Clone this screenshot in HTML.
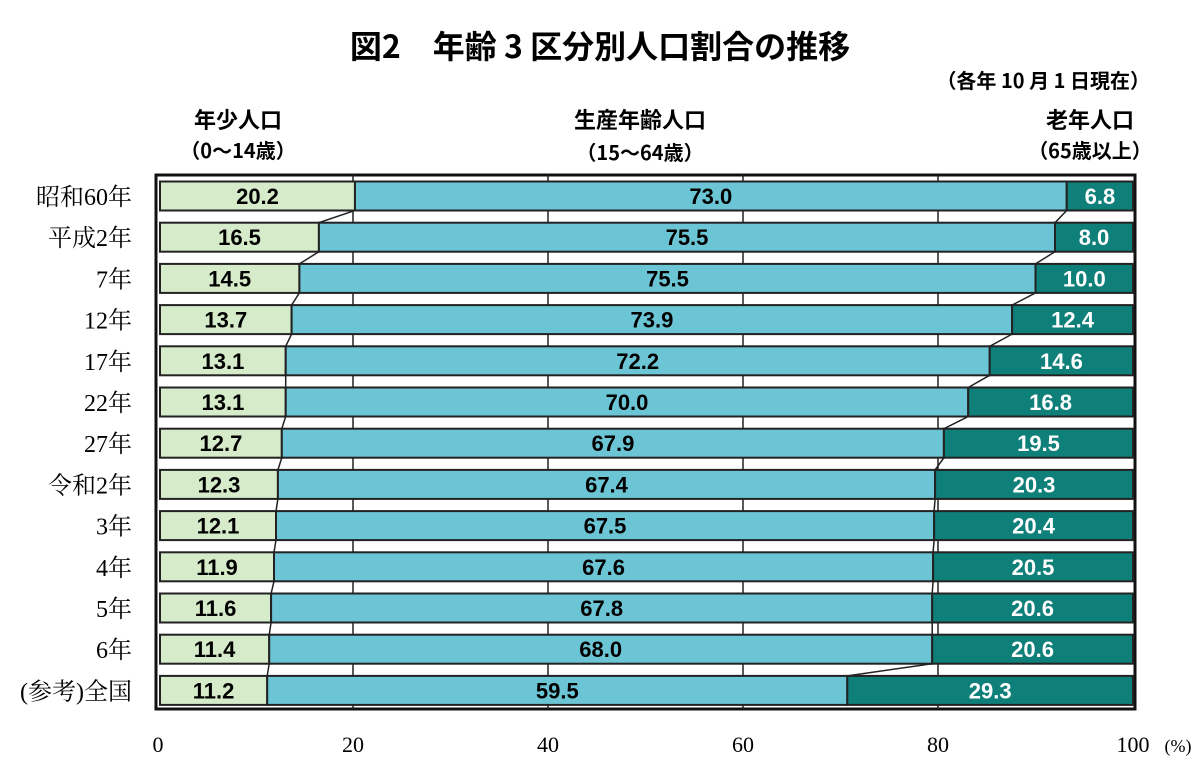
<!DOCTYPE html>
<html><head><meta charset="utf-8"><style>
html,body{margin:0;padding:0;background:#fff;}
.g{fill:#d5ebc9;stroke:#222;stroke-width:2}
.b{fill:#6cc5d5;stroke:#222;stroke-width:2}
.t{fill:#0f7f7a;stroke:#222;stroke-width:2}
.v{font-size:22px;font-weight:bold;text-anchor:middle;font-family:"Liberation Sans",sans-serif}
.w{fill:#fff}
.l{font-size:24px;text-anchor:end;font-family:"Liberation Serif","Noto Serif CJK SC",serif}
</style></head><body>
<svg width="1200" height="765" xmlns="http://www.w3.org/2000/svg" font-family="Liberation Sans, Noto Sans CJK JP, sans-serif">
<text x="600" y="58" text-anchor="middle" font-size="32" font-weight="bold" font-family="Noto Sans CJK JP, sans-serif">図2　年齢 3 区分別人口割合の推移</text>
<text x="1150" y="88" text-anchor="end" font-size="20" font-weight="bold" font-family="Noto Sans CJK JP, sans-serif">（各年 10 月 1 日現在）</text>
<g font-size="22" font-weight="bold" font-family="Noto Sans CJK JP, sans-serif" text-anchor="middle">
<text x="238" y="128">年少人口</text><text x="238" y="158" font-size="20">（0～14歳）</text>
<text x="640" y="128">生産年齢人口</text><text x="640" y="160" font-size="20">（15～64歳）</text>
<text x="1090" y="128">老年人口</text><text x="1090" y="158" font-size="20">（65歳以上）</text>
</g>
<rect x="156" y="175" width="979" height="534" fill="#fff" stroke="#111" stroke-width="3"/>
<g stroke="#222" stroke-width="1.5">
<line x1="353" y1="175" x2="353" y2="709"/><line x1="548" y1="175" x2="548" y2="709"/><line x1="743" y1="175" x2="743" y2="709"/><line x1="938" y1="175" x2="938" y2="709"/>
</g>
<g fill="none" stroke="#222" stroke-width="1.5">
<polyline points="354.95,181.5 354.95,210.5 318.9,222.7 318.9,251.7 299.4,263.9 299.4,292.9 291.6,305.1 291.6,334.1 285.7,346.3 285.7,375.3 285.7,387.5 285.7,416.5 281.8,428.7 281.8,457.7 277.9,469.9 277.9,498.9 276,511.1 276,540.1 274,552.3 274,581.3 271.1,593.5 271.1,622.5 269.2,634.7 269.2,663.7 267.2,675.9"/>
<polyline points="1066.7,181.5 1066.7,210.5 1055,222.7 1055,251.7 1035.5,263.9 1035.5,292.9 1012.1,305.1 1012.1,334.1 989.7,346.3 989.7,375.3 968.2,387.5 968.2,416.5 943.9,428.7 943.9,457.7 935.1,469.9 935.1,498.9 934.1,511.1 934.1,540.1 933.1,552.3 933.1,581.3 932.2,593.5 932.2,622.5 932.2,634.7 932.2,663.7 847.3,675.9"/>
</g>

<g transform="translate(0,196)"><rect class="g" x="160" y="-14.5" width="194.95" height="29"/><rect class="b" x="354.95" y="-14.5" width="711.75" height="29"/><rect class="t" x="1066.7" y="-14.5" width="66.3" height="29"/><text class="v" x="257.5" y="8">20.2</text><text class="v" x="710.8" y="8">73.0</text><text class="v w" x="1099.9" y="8">6.8</text><text class="l" x="132" y="9">昭和60年</text></g>
<g transform="translate(0,237.2)"><rect class="g" x="160" y="-14.5" width="158.9" height="29"/><rect class="b" x="318.9" y="-14.5" width="736.1" height="29"/><rect class="t" x="1055" y="-14.5" width="78" height="29"/><text class="v" x="239.5" y="8">16.5</text><text class="v" x="687" y="8">75.5</text><text class="v w" x="1094" y="8">8.0</text><text class="l" x="132" y="9">平成2年</text></g>
<g transform="translate(0,278.4)"><rect class="g" x="160" y="-14.5" width="139.4" height="29"/><rect class="b" x="299.4" y="-14.5" width="736.1" height="29"/><rect class="t" x="1035.5" y="-14.5" width="97.5" height="29"/><text class="v" x="229.7" y="8">14.5</text><text class="v" x="667.5" y="8">75.5</text><text class="v w" x="1084.3" y="8">10.0</text><text class="l" x="132" y="9">7年</text></g>
<g transform="translate(0,319.6)"><rect class="g" x="160" y="-14.5" width="131.6" height="29"/><rect class="b" x="291.6" y="-14.5" width="720.5" height="29"/><rect class="t" x="1012.1" y="-14.5" width="120.9" height="29"/><text class="v" x="225.8" y="8">13.7</text><text class="v" x="651.9" y="8">73.9</text><text class="v w" x="1072.6" y="8">12.4</text><text class="l" x="132" y="9">12年</text></g>
<g transform="translate(0,360.8)"><rect class="g" x="160" y="-14.5" width="125.7" height="29"/><rect class="b" x="285.7" y="-14.5" width="704" height="29"/><rect class="t" x="989.7" y="-14.5" width="143.3" height="29"/><text class="v" x="222.9" y="8">13.1</text><text class="v" x="637.7" y="8">72.2</text><text class="v w" x="1061.4" y="8">14.6</text><text class="l" x="132" y="9">17年</text></g>
<g transform="translate(0,402)"><rect class="g" x="160" y="-14.5" width="125.7" height="29"/><rect class="b" x="285.7" y="-14.5" width="682.5" height="29"/><rect class="t" x="968.2" y="-14.5" width="164.8" height="29"/><text class="v" x="222.9" y="8">13.1</text><text class="v" x="627" y="8">70.0</text><text class="v w" x="1050.6" y="8">16.8</text><text class="l" x="132" y="9">22年</text></g>
<g transform="translate(0,443.2)"><rect class="g" x="160" y="-14.5" width="121.8" height="29"/><rect class="b" x="281.8" y="-14.5" width="662.1" height="29"/><rect class="t" x="943.9" y="-14.5" width="189.1" height="29"/><text class="v" x="220.9" y="8">12.7</text><text class="v" x="612.9" y="8">67.9</text><text class="v w" x="1038.5" y="8">19.5</text><text class="l" x="132" y="9">27年</text></g>
<g transform="translate(0,484.4)"><rect class="g" x="160" y="-14.5" width="117.9" height="29"/><rect class="b" x="277.9" y="-14.5" width="657.2" height="29"/><rect class="t" x="935.1" y="-14.5" width="197.9" height="29"/><text class="v" x="219" y="8">12.3</text><text class="v" x="606.5" y="8">67.4</text><text class="v w" x="1034" y="8">20.3</text><text class="l" x="132" y="9">令和2年</text></g>
<g transform="translate(0,525.6)"><rect class="g" x="160" y="-14.5" width="116" height="29"/><rect class="b" x="276" y="-14.5" width="658.1" height="29"/><rect class="t" x="934.1" y="-14.5" width="198.9" height="29"/><text class="v" x="218" y="8">12.1</text><text class="v" x="605" y="8">67.5</text><text class="v w" x="1033.6" y="8">20.4</text><text class="l" x="132" y="9">3年</text></g>
<g transform="translate(0,566.8)"><rect class="g" x="160" y="-14.5" width="114" height="29"/><rect class="b" x="274" y="-14.5" width="659.1" height="29"/><rect class="t" x="933.1" y="-14.5" width="199.9" height="29"/><text class="v" x="217" y="8">11.9</text><text class="v" x="603.6" y="8">67.6</text><text class="v w" x="1033" y="8">20.5</text><text class="l" x="132" y="9">4年</text></g>
<g transform="translate(0,608)"><rect class="g" x="160" y="-14.5" width="111.1" height="29"/><rect class="b" x="271.1" y="-14.5" width="661.1" height="29"/><rect class="t" x="932.2" y="-14.5" width="200.8" height="29"/><text class="v" x="215.6" y="8">11.6</text><text class="v" x="601.7" y="8">67.8</text><text class="v w" x="1032.6" y="8">20.6</text><text class="l" x="132" y="9">5年</text></g>
<g transform="translate(0,649.2)"><rect class="g" x="160" y="-14.5" width="109.2" height="29"/><rect class="b" x="269.2" y="-14.5" width="663" height="29"/><rect class="t" x="932.2" y="-14.5" width="200.8" height="29"/><text class="v" x="214.6" y="8">11.4</text><text class="v" x="600.7" y="8">68.0</text><text class="v w" x="1032.6" y="8">20.6</text><text class="l" x="132" y="9">6年</text></g>
<g transform="translate(0,690.4)"><rect class="g" x="160" y="-14.5" width="107.2" height="29"/><rect class="b" x="267.2" y="-14.5" width="580.1" height="29"/><rect class="t" x="847.3" y="-14.5" width="285.7" height="29"/><text class="v" x="213.6" y="8">11.2</text><text class="v" x="557.3" y="8">59.5</text><text class="v w" x="990.2" y="8">29.3</text><text class="l" x="132" y="9">(参考)全国</text></g>

<g font-size="22" font-family="Liberation Serif, Noto Serif CJK SC, serif" text-anchor="middle">
<text x="158" y="752">0</text><text x="353" y="752">20</text><text x="548" y="752">40</text><text x="743" y="752">60</text><text x="938" y="752">80</text><text x="1133" y="752">100</text>
<text x="1178" y="752" font-size="18">(%)</text>
</g>
</svg>
</body></html>
